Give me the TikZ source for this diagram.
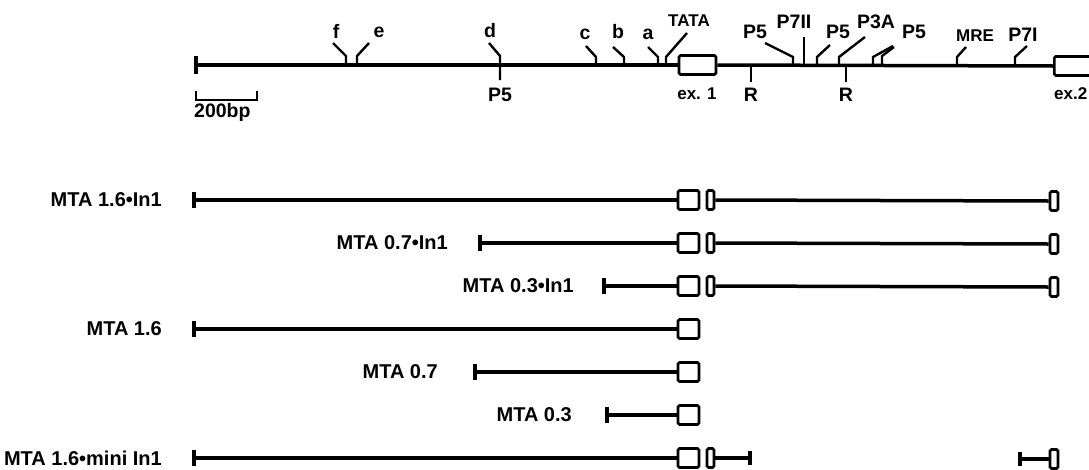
\documentclass[tikz,border=0pt]{standalone}
\usepackage{fontspec}
\setmainfont{Liberation Sans}
\begin{document}
\begin{tikzpicture}[x=1pt,y=-1pt,
  dna/.style={line width=3.5pt},
  feat/.style={line width=2.4pt},
  exon/.style={draw,line width=2.6pt,fill=white,inner sep=0pt,rounded corners=1.5pt,minimum height=19pt},
  bigex/.style={exon,minimum width=21pt},
  smallex/.style={exon,minimum width=7pt},
  endex/.style={exon,minimum width=8pt},
  rowlab/.style={font=\bfseries\fontsize{20}{24}\selectfont,anchor=east,inner sep=0pt},
  flab/.style={font=\bfseries\fontsize{19.5}{22}\selectfont,inner sep=0pt},
  slab/.style={font=\bfseries\fontsize{17}{19}\selectfont,inner sep=0pt},
]
\useasboundingbox (0,0) rectangle (1089,469);
\clip (0,0) rectangle (1089,469);

% ---------------- genomic map ----------------
\coordinate (L) at (196,65);
\node[exon,minimum width=37pt] (ex1) at (697.5,65) {};
\node[exon,minimum width=60pt,anchor=west] (ex2) at (1053,66) {};
\draw[dna] (L) -- (ex1.west);
\draw[dna] (ex1.east) -- (ex2.west);
\draw[dna] (196,56) -- (196,74);

% scale bar
\coordinate (sb1) at (196,100);
\coordinate (sb2) at (257,100);
\draw[line width=2.6pt] (196,91) -- (sb1) -- (sb2) -- (257,91);
\node[flab,anchor=west] (sbl) at (194,112) {200bp};

% features above
\draw[feat] (346,65) -- (346,56) -- (333,43);
\node[flab] (lf) at (336,31) {f};
\draw[feat] (357,65) -- (357,56) -- (369,43);
\node[flab] (le) at (379,32) {e};
\draw[feat] (500,80) -- (500,56) -- (489,43);
\node[flab] (ld) at (490,31) {d};
\node[flab] (ldp) at (500,95) {P5};
\draw[feat] (596,65) -- (596,57) -- (586,46);
\node[flab] (lc) at (585,34) {c};
\draw[feat] (624,65) -- (624,57) -- (613,47);
\node[flab] (lb) at (618,32) {b};
\draw[feat] (658,65) -- (658,57) -- (648,47);
\node[flab] (la) at (648,34) {a};
\draw[feat] (666,65) -- (666,57) -- (687,33);
\node[slab] (lt) at (689,21) {TATA};
\node[slab] (lex1) at (697,94) {ex. 1};

\draw[feat] (751,65) -- (751,82);
\node[flab] (lr1) at (751,95) {R};
\draw[feat] (793,65) -- (793,57) -- (765,43);
\node[flab] (lp5a) at (755,32) {P5};
\draw[feat] (804,65) -- (804,37);
\node[flab] (lp7ii) at (794,22) {P7II};
\draw[feat] (817,65) -- (817,57) -- (830,45);
\node[flab] (lp5b) at (838,32) {P5};
\draw[feat] (839,65) -- (839,57) -- (865,37);
\node[flab] (lp3a) at (876,22) {P3A};
\draw[feat] (846,65) -- (846,82);
\node[flab] (lr2) at (846,95) {R};
\draw[feat] (873,65) -- (873,57) -- (893,46);
\draw[feat] (882,65) -- (882,56) -- (894,47);
\node[flab] (lp5c) at (914,32) {P5};
\draw[feat] (957,65) -- (957,57) -- (966,47);
\node[slab] (lmre) at (975,36) {MRE};
\draw[feat] (1015,65) -- (1015,57) -- (1027,46);
\node[flab] (lp7i) at (1023,35) {P7I};
\node[slab,anchor=west] (lex2) at (1054,94) {ex.2};

% ---------------- constructs ----------------
% row 1
\node[bigex] (r1a) at (688.5,200) {};
\node[smallex] (r1b) at (710.5,200) {};
\node[endex] (r1c) at (1054,201) {};
\coordinate (r1s) at (194,200);
\draw[dna] (r1s) -- (r1a.west);
\draw[dna] (r1b.east) -- (r1c.west);
\draw[dna] (194,192) -- (194,208);
\node[rowlab] (l1) at (162,200) {MTA 1.6•In1};

% row 2
\node[bigex] (r2a) at (688.5,243) {};
\node[smallex] (r2b) at (710.5,243) {};
\node[endex] (r2c) at (1054,244) {};
\coordinate (r2s) at (480,243);
\draw[dna] (r2s) -- (r2a.west);
\draw[dna] (r2b.east) -- (r2c.west);
\draw[dna] (480,235) -- (480,251);
\node[rowlab] (l2) at (448,243) {MTA 0.7•In1};

% row 3
\node[bigex] (r3a) at (688.5,286) {};
\node[smallex] (r3b) at (710.5,286) {};
\node[endex] (r3c) at (1054,287) {};
\coordinate (r3s) at (604,286);
\draw[dna] (r3s) -- (r3a.west);
\draw[dna] (r3b.east) -- (r3c.west);
\draw[dna] (604,278) -- (604,294);
\node[rowlab] (l3) at (574,286) {MTA 0.3•In1};

% row 4
\node[bigex] (r4a) at (688.5,329) {};
\coordinate (r4s) at (194,329);
\draw[dna] (r4s) -- (r4a.west);
\draw[dna] (194,321) -- (194,337);
\node[rowlab] (l4) at (162,329) {MTA 1.6};

% row 5
\node[bigex] (r5a) at (688.5,372) {};
\coordinate (r5s) at (475,372);
\draw[dna] (r5s) -- (r5a.west);
\draw[dna] (475,364) -- (475,380);
\node[rowlab] (l5) at (438,372) {MTA 0.7};

% row 6
\node[bigex] (r6a) at (688.5,415) {};
\coordinate (r6s) at (607,415);
\draw[dna] (r6s) -- (r6a.west);
\draw[dna] (607,407) -- (607,423);
\node[rowlab] (l6) at (572,415) {MTA 0.3};

% row 7
\node[bigex] (r7a) at (688.5,458) {};
\node[smallex] (r7b) at (710.5,458) {};
\node[endex] (r7c) at (1054,459) {};
\coordinate (r7s) at (194,458);
\coordinate (r7m) at (750,458);
\coordinate (r7n) at (1020,459);
\draw[dna] (r7s) -- (r7a.west);
\draw[dna] (r7b.east) -- (r7m);
\draw[dna] (r7n) -- (r7c.west);
\draw[dna] (194,450) -- (194,466);
\draw[dna] (750,451) -- (750,465);
\draw[dna] (1020,452) -- (1020,466);
\node[rowlab] (l7) at (162,458) {MTA 1.6•mini In1};
\end{tikzpicture}
\end{document}
